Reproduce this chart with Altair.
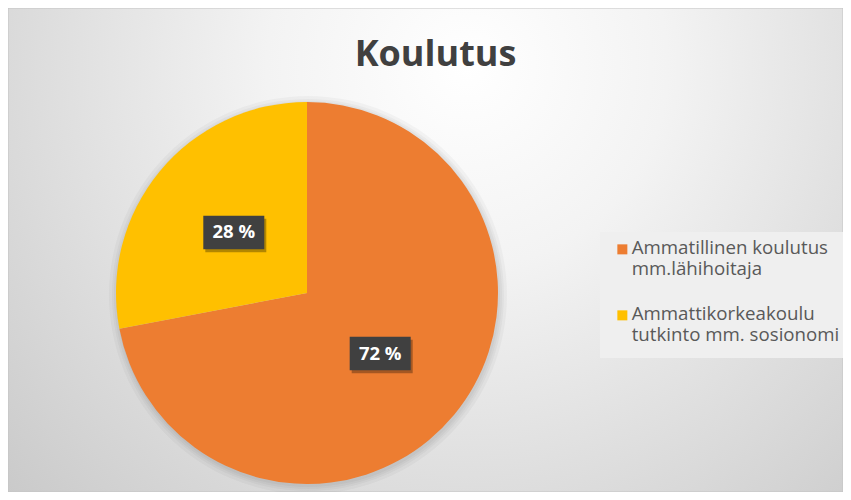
import altair as alt
import pandas as pd

# ---- data ----
categories = ["Ammatillinen koulutus mm.lähihoitaja",
              "Ammattikorkeakoulu tutkinto mm. sosionomi"]
legend_lines = [["Ammatillinen koulutus", "mm.lähihoitaja"],
                ["Ammattikorkeakoulu", "tutkinto mm. sosionomi"]]
shares = [72, 28]
colors = ["#ED7D31", "#FFC000"]
title_text = "Koulutus"

# ---- layout ----
W, H = 835, 484
CX, CY = 299, 285
R = 191
LR = 95

df = pd.DataFrame({"category": categories, "share": shares,
                   "idx": list(range(len(categories)))})
one = pd.DataFrame({"k": [0]})


def q(s):
    return "'" + s.replace("'", "\\'") + "'"


def arr(lines):
    return "[" + ",".join(q(s) for s in lines) + "]"


label_expr = arr(legend_lines[-1])
for cat, lines in reversed(list(zip(categories[:-1], legend_lines[:-1]))):
    label_expr = f"datum.label == {q(cat)} ? {arr(lines)} : ({label_expr})"

color_scale = alt.Scale(domain=categories, range=colors)

bg = alt.Chart(one).mark_rect(
    fill=alt.Gradient(
        gradient="radial",
        stops=[alt.GradientStop(color="#ffffff", offset=0),
               alt.GradientStop(color="#f3f3f3", offset=0.3),
               alt.GradientStop(color="#c6c6c6", offset=1)],
        x1=0.55, y1=0.28, x2=0.55, y2=0.28, r1=0, r2=0.8),
    stroke="#c4c4c4", strokeWidth=1,
).encode(x=alt.value(0), x2=alt.value(W), y=alt.value(0), y2=alt.value(H))

halos = [
    alt.Chart(one).mark_arc(radius=R + s, color="#000000", opacity=0.03).encode(
        theta=alt.value(0), theta2=alt.value(6.2832),
        x=alt.value(CX + 1), y=alt.value(CY + 2))
    for s in [1, 3, 5, 8]
]

base = alt.Chart(df)

# legend square drawn 1 unit (5 px) above the label anchor so it sits beside the first line
legend_square = "M-1,-2L1,-2L1,0L-1,0Z"

pie = base.mark_arc(radius=R).encode(
    theta=alt.Theta("share:Q", stack=True),
    order=alt.Order("idx:Q", sort="ascending"),
    color=alt.Color("category:N", scale=color_scale, sort=categories,
                    legend=alt.Legend(
                        title=None, orient="none", legendX=592, legendY=224,
                        fillColor="#efefef", padding=13,
                        symbolType=legend_square, symbolSize=100, symbolStrokeWidth=0,
                        labelFont="Open Sans", labelFontSize=18.7,
                        labelColor="#595959", labelLimit=400,
                        labelBaseline="alphabetic", labelOffset=0, rowPadding=26,
                        labelExpr=label_expr)),
    x=alt.value(CX), y=alt.value(CY),
)

lab = base.transform_joinaggregate(total="sum(share)").transform_window(
    cum="sum(share)", sort=[alt.SortField("idx")], frame=[None, 0]
).transform_calculate(
    mid="(datum.cum - datum.share / 2) / datum.total * 2 * PI",
    lx=f"sin(datum.mid) * {LR}",
    ly=f"cos(datum.mid) * {LR}",
    txt="datum.share + ' %'",
)
xs = alt.X("lx:Q", scale=alt.Scale(domain=[-CX, W - CX], nice=False, zero=False), axis=None)
ys = alt.Y("ly:Q", scale=alt.Scale(domain=[CY - H, CY], nice=False, zero=False), axis=None)

box_path = "M-1,-0.55L1,-0.55L1,0.55L-1,0.55Z"
box_shadow = lab.mark_point(shape=box_path, size=61 * 61, filled=True,
                            color="#000000", opacity=0.3, strokeWidth=0,
                            xOffset=2, yOffset=3).encode(x=xs, y=ys)
box = lab.mark_point(shape=box_path, size=61 * 61, filled=True,
                     color="#404040", opacity=1, strokeWidth=0).encode(x=xs, y=ys)
txt = lab.mark_text(font="Open Sans", fontSize=18.5, fontWeight="bold",
                    color="#ffffff", align="center", baseline="middle").encode(
    x=xs, y=ys, text="txt:N")

chart = alt.layer(bg, *halos, pie, box_shadow, box, txt).properties(
    width=W, height=H,
    autosize=alt.AutoSizeParams(type="none"),
    padding=0,
    title=alt.TitleParams(title_text, font="Open Sans", fontSize=36,
                          fontWeight="bold", color="#404040",
                          anchor="middle", frame="group", orient="top",
                          baseline="alphabetic", offset=0, dx=10, dy=94),
).configure_view(stroke=None).configure(background="#ffffff")

chart.save("out.html", embed_options={"renderer": "svg", "actions": False})
